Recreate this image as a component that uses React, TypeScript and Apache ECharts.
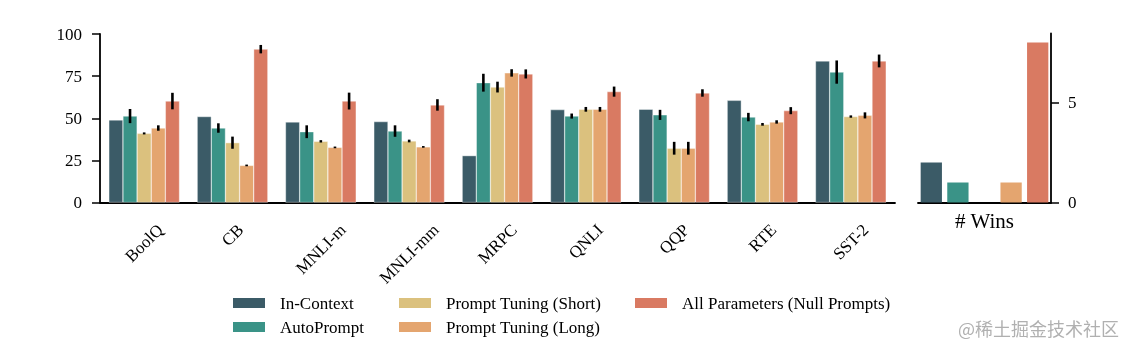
import React, { useEffect, useRef } from "react";
import * as echarts from "echarts";

const categories = ["BoolQ", "CB", "MNLI-m", "MNLI-mm", "MRPC", "QNLI", "QQP", "RTE", "SST-2"];
const seriesNames = [
  "In-Context",
  "AutoPrompt",
  "Prompt Tuning (Short)",
  "Prompt Tuning (Long)",
  "All Parameters (Null Prompts)",
];
const colors = ["#3b5b67", "#3a9387", "#dbc17e", "#e4a56f", "#d97a62"];

const inContext = [49, 51, 47.8, 48, 27.8, 55.1, 55.3, 60.6, 84];
const autoPrompt = [51.3, 44.2, 42, 42.4, 71.1, 51.3, 52, 50.7, 77.4];
const ptShort = [41, 35.5, 36.3, 36.5, 68.5, 55.3, 32.2, 46.4, 51];
const ptLong = [44.2, 22, 32.7, 33, 76.9, 55.3, 32.2, 47.8, 51.7];
const nullPrompts = [60.2, 91, 60.2, 57.9, 76.3, 65.8, 65, 54.5, 84];

const autoPromptErr = [4.2, 2.8, 3.8, 3.4, 5.3, 1.5, 3, 2.5, 6.9];
const ptShortErr = [0.6, 3.6, 0.7, 0.8, 3.2, 1.4, 3.8, 0.8, 0.7];
const ptLongErr = [1.6, 0.5, 0.5, 0.5, 2.2, 1.4, 3.8, 1, 1.8];
const nullPromptsErr = [4.9, 2.5, 5, 3.4, 2.7, 3, 2.2, 2.1, 3.8];

const wins = [2, 1, 0, 1, 8];
const leftTicks = [0, 25, 50, 75, 100];
const rightTicks = [0, 5];

const FONT = "'Liberation Serif', 'Times New Roman', serif";
const watermark = "@稀土掘金技术社区";

export default function App() {
  const ref = useRef<HTMLDivElement>(null);
  useEffect(() => {
    if (!ref.current) return;
    const chart = echarts.init(ref.current, null, { renderer: "svg" });
    const values = [inContext, autoPrompt, ptShort, ptLong, nullPrompts];
    const errs: (number[] | null)[] = [null, autoPromptErr, ptShortErr, ptLongErr, nullPromptsErr];

    const errData: number[][] = [];
    errs.forEach((e, s) => {
      if (!e) return;
      e.forEach((d, i) => errData.push([i, values[s][i] - d, values[s][i] + d, s]));
    });

    const barSeries = values.map((v, s) => ({
      name: seriesNames[s],
      type: "bar",
      xAxisIndex: 0,
      yAxisIndex: 0,
      data: v,
      barGap: "0%",
      barCategoryGap: "20%",
      itemStyle: { color: colors[s], borderColor: "#ffffff", borderWidth: 0.4 },
    }));

    const watermarkGraphic = {
      id: "wm",
      type: "text",
      right: 10,
      bottom: 16,
      style: {
        text: watermark,
        fontSize: 18,
        fontFamily: "'Noto Sans CJK SC', sans-serif",
        fill: "rgba(150,150,150,0.75)",
      },
    };

    chart.setOption({
      animation: false,
      textStyle: { fontFamily: FONT },
      grid: [
        { left: 100, top: 34, width: 795, height: 168.5 },
        { left: 918, top: 33.5, width: 133, height: 169 },
      ],
      legend: [0, 1, 2].map((col) => ({
        orient: "vertical",
        left: [226, 392, 628][col],
        top: 289.5,
        itemWidth: 34,
        itemHeight: 12,
        itemGap: 7,
        icon: "rect",
        data: col === 0 ? seriesNames.slice(0, 2) : col === 1 ? seriesNames.slice(2, 4) : seriesNames.slice(4),
        textStyle: { fontFamily: FONT, fontSize: 17, color: "#000", padding: [0, 0, 0, 9] },
        selectedMode: false,
      })),
      xAxis: [
        {
          type: "category",
          gridIndex: 0,
          data: categories,
          axisLine: { lineStyle: { color: "#000", width: 1.8 } },
          axisTick: { show: false },
          axisLabel: { show: false, interval: 0 },
        },
        {
          type: "category",
          gridIndex: 1,
          data: seriesNames,
          axisLine: { lineStyle: { color: "#000", width: 1.8 } },
          axisTick: { show: false },
          axisLabel: { show: false },
          name: "# Wins",
          nameLocation: "middle",
          nameGap: 8,
          nameTextStyle: { fontFamily: FONT, fontSize: 21, color: "#000" },
        },
      ],
      yAxis: [
        {
          type: "value",
          gridIndex: 0,
          min: 0,
          max: 100,
          interval: 25,
          axisLine: { show: true, lineStyle: { color: "#000", width: 1.8 } },
          axisTick: { show: true, length: 8, lineStyle: { color: "#000", width: 1.5 }, customValues: leftTicks },
          axisLabel: { margin: 18, fontSize: 17, fontFamily: FONT, color: "#000", customValues: leftTicks },
          splitLine: { show: false },
        },
        {
          type: "value",
          gridIndex: 1,
          position: "right",
          min: 0,
          max: 8.45,
          interval: 5,
          axisLine: { show: true, lineStyle: { color: "#000", width: 1.8 } },
          axisTick: { show: true, length: 8, lineStyle: { color: "#000", width: 1.5 }, customValues: rightTicks },
          axisLabel: { margin: 17, fontSize: 17, fontFamily: FONT, color: "#000", customValues: rightTicks },
          splitLine: { show: false },
        },
      ],
      series: [
        ...barSeries,
        {
          type: "custom",
          name: "errors",
          xAxisIndex: 0,
          yAxisIndex: 0,
          data: errData,
          encode: { x: 0, y: [1, 2] },
          z: 10,
          renderItem: (params: any, api: any) => {
            const cat = api.value(0);
            const s = api.value(3);
            const band = api.size([1, 0])[0];
            const x = api.coord([cat, 0])[0] + (s - 2) * band * 0.16;
            const y1 = api.coord([cat, api.value(1)])[1];
            const y2 = api.coord([cat, api.value(2)])[1];
            return {
              type: "line",
              shape: { x1: x, y1, x2: x, y2 },
              style: { stroke: "#000", lineWidth: 2.6 },
            };
          },
        },
        {
          type: "bar",
          name: "wins",
          xAxisIndex: 1,
          yAxisIndex: 1,
          barWidth: "80%",
          data: wins.map((w, i) => ({ value: w, itemStyle: { color: colors[i] } })),
        },
      ],
      graphic: [watermarkGraphic],
    });

    // Rotated category labels (matplotlib style: rotation 45, centred on the tick, top-aligned)
    const cv = document.createElement("canvas").getContext("2d")!;
    cv.font = `17px ${FONT}`;
    const labelGraphics = categories.map((c, i) => {
      const L = cv.measureText(c).width;
      const p = chart.convertToPixel({ gridIndex: 0 } as any, [i, 0]) as number[];
      return {
        id: "xl" + i,
        type: "text",
        x: p[0],
        y: p[1] + 20.5 + 0.354 * (L + 11.5),
        rotation: Math.PI / 4,
        style: {
          text: c,
          fontSize: 17,
          fontFamily: FONT,
          fill: "#000",
          align: "center",
          verticalAlign: "middle",
        },
      };
    });
    chart.setOption({ graphic: [watermarkGraphic, ...labelGraphics] });

    return () => chart.dispose();
  }, []);
  return <div ref={ref} style={{ position: "fixed", left: 0, top: 0, width: 1129, height: 353 }} />;
}
